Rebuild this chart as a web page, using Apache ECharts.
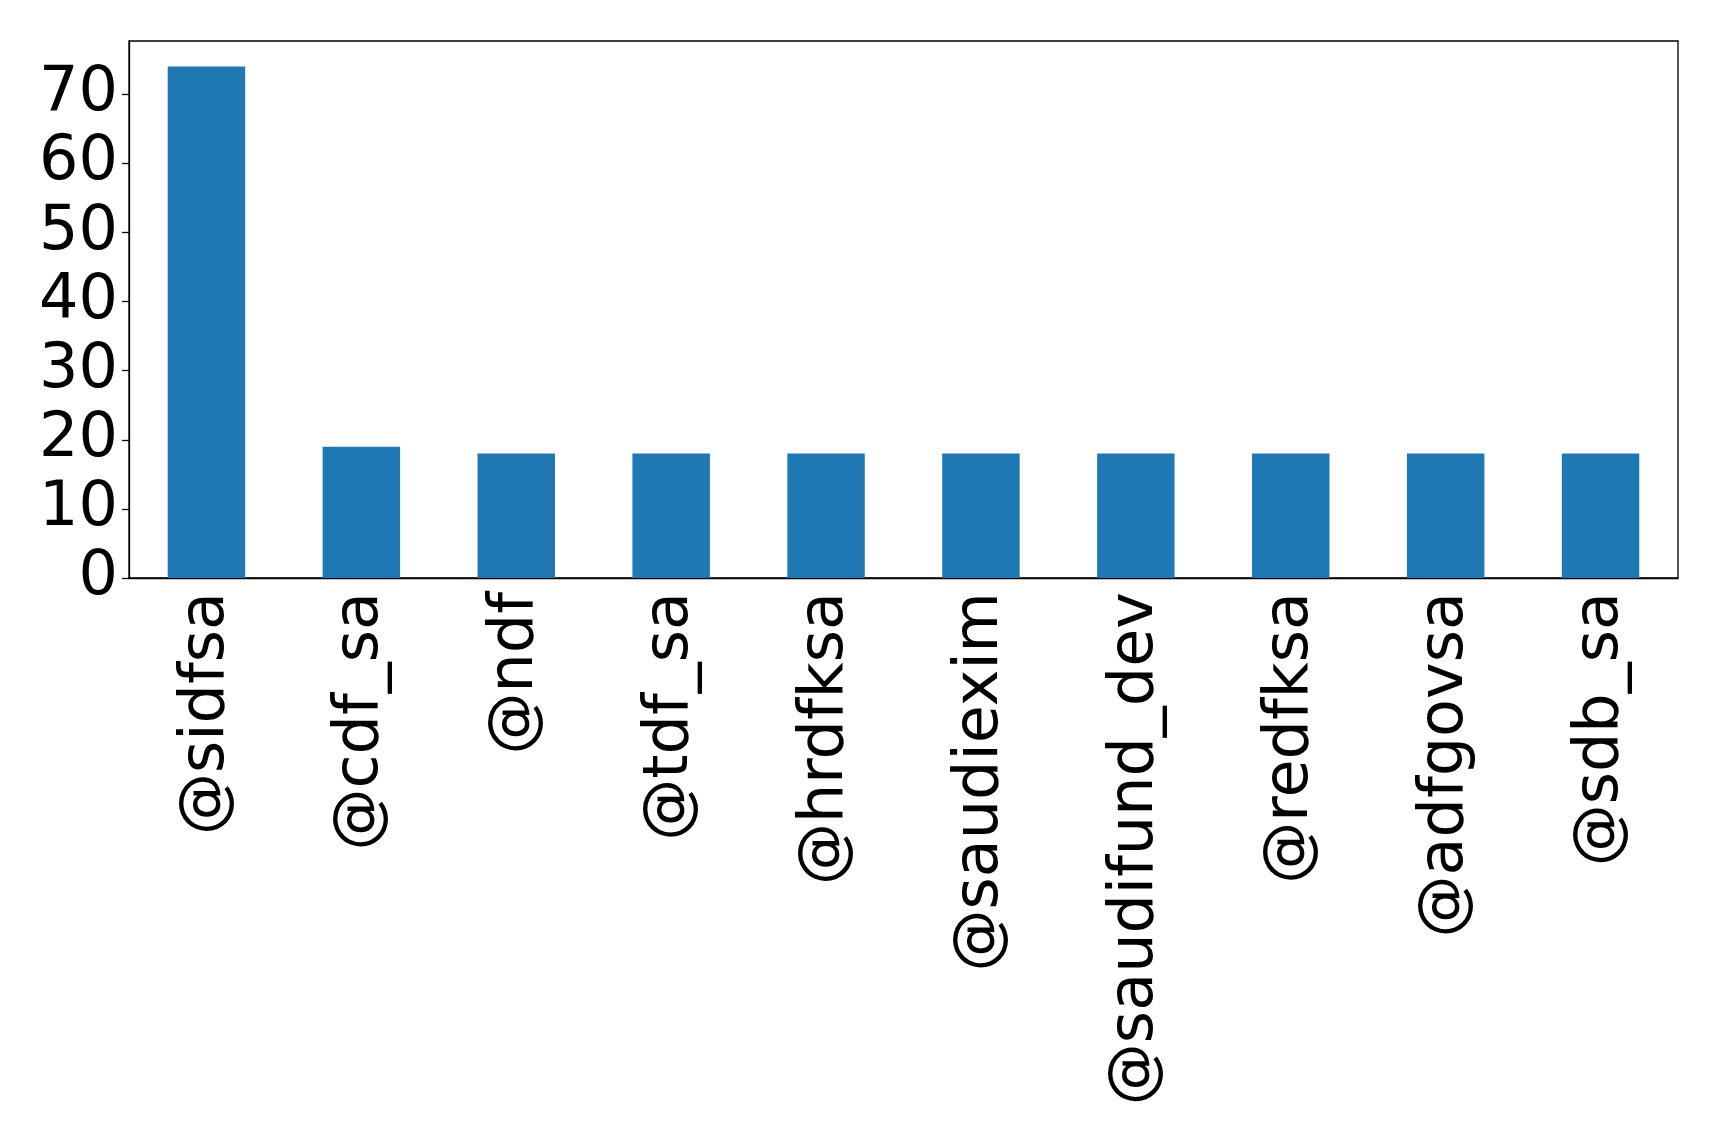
<!DOCTYPE html>
<html>
<head>
<meta charset="utf-8">
<script src="https://cdn.jsdelivr.net/npm/echarts@6/dist/echarts.min.js"></script>
<style>
  html, body { margin: 0; padding: 0; background: #fff; }
  #chart { width: 1719px; height: 1145px; }
</style>
</head>
<body>
<div id="chart"></div>
<script>
// account names and counts
const accounts = ['@sidfsa', '@cdf_sa', '@ndf', '@tdf_sa', '@hrdfksa', '@saudiexim', '@saudifund_dev', '@redfksa', '@adfgovsa', '@sdb_sa']
const counts = [74, 19, 18, 18, 18, 18, 18, 18, 18, 18]

const chart = echarts.init(document.getElementById('chart'))

const font = 'DejaVu Sans'

chart.setOption({
  animation: false,
  grid: {
    left: 129, right: 41, top: 41, bottom: 567,
    show: true, borderColor: '#000', borderWidth: 1.3,
    containLabel: false,
  },
  xAxis: {
    type: 'category',
    data: accounts,
    axisLine: { lineStyle: { color: '#000', width: 1.3 } },
    axisTick: { alignWithLabel: true, length: 7, lineStyle: { color: '#000', width: 1.3 } },
    axisLabel: {
      rotate: 90, fontSize: 62, fontFamily: font, color: '#000', margin: 14,
      interval: 0,
    },
  },
  yAxis: {
    type: 'value',
    min: 0, max: 77.7, interval: 10,
    splitLine: { show: false },
    axisLine: { show: true, lineStyle: { color: '#000', width: 1.3 } },
    axisTick: { show: true, length: 7, lineStyle: { color: '#000', width: 1.3 } },
    axisLabel: {
      fontSize: 62, fontFamily: font, color: '#000', margin: 11,
      showMaxLabel: false,
    },
  },
  series: [{
    type: 'bar',
    data: counts,
    barWidth: '50%',
    itemStyle: { color: '#1f77b4' },
  }],
})
</script>
</body>
</html>
